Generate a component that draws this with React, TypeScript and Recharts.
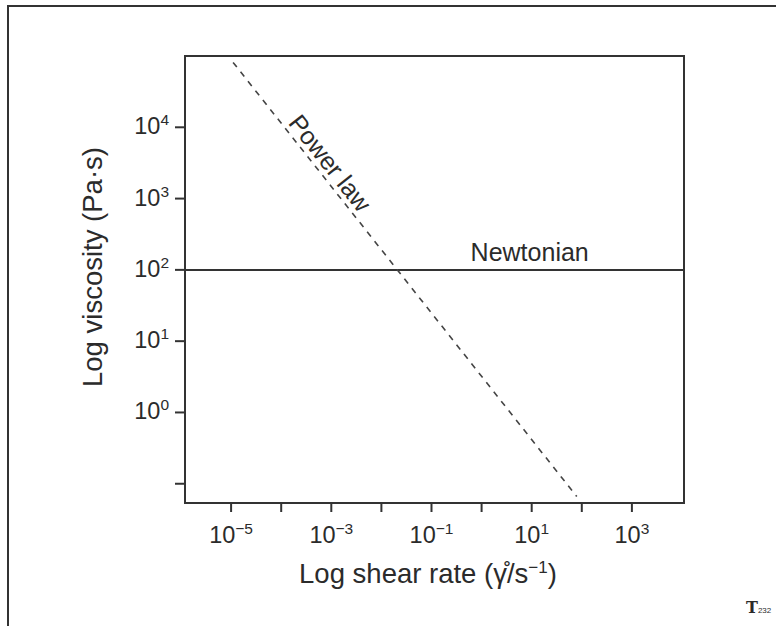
import { LineChart, Line, XAxis, YAxis, ReferenceArea, ReferenceDot } from "recharts"

// exponents (log10)
const xDomain = [-5.92, 4.04]
const yDomain = [-1.27, 5]
const xTicks = [-5, -4, -3, -2, -1, 0, 1, 2, 3]
const yTicks = [-1, 0, 1, 2, 3, 4]

const powerLawX = [-4.96, 1.9]
const powerLawY = [4.91, -1.18]
const newtonianX = [-5.92, 4.04]
const newtonianY = [2, 2]

const powerLawLabelAt = { x: -3.02, y: 3.5 }
const newtonianLabelAt = { x: 0.96, y: 2 }

const toPoints = (xs: number[], ys: number[]) => xs.map((x, i) => ({ x, y: ys[i] }))
const powerLaw = toPoints(powerLawX, powerLawY)
const newtonian = toPoints(newtonianX, newtonianY)

const FONT = '"Liberation Sans", Arial, sans-serif'
const INK = "#2b2b2b"

const sup = (v: number) => (v < 0 ? `\u2212${-v}` : `${v}`)

function XTick({ x, y, payload }: any) {
  const v = payload.value
  if (Math.abs(v) % 2 === 0) return <g />
  return (
    <text x={x} y={y + 29} textAnchor="middle" fill={INK} fontSize={23.5} fontFamily={FONT}>
      10
      <tspan dy={-9} fontSize={15.5}>{sup(v)}</tspan>
    </text>
  )
}

function YTick({ x, y, payload }: any) {
  const v = payload.value
  if (v < 0) return <g />
  return (
    <text x={x - 4} y={y + 7} textAnchor="end" fill={INK} fontSize={23.5} fontFamily={FONT}>
      10
      <tspan dy={-9} fontSize={15.5}>{sup(v)}</tspan>
    </text>
  )
}

export default function App() {
  return (
    <div
      style={{
        position: "absolute",
        left: 0,
        top: 0,
        width: 776,
        height: 626,
        overflow: "hidden",
        background: "#fff",
        fontFamily: FONT,
        color: INK,
      }}
    >
      <div
        style={{
          position: "absolute",
          left: 7,
          top: 5,
          width: 820,
          height: 680,
          border: "2px solid #333",
        }}
      />
      <LineChart
        width={776}
        height={626}
        margin={{ top: 56, right: 92, bottom: 83, left: 125 }}
        style={{ position: "absolute", left: 0, top: 0 }}
      >
        <XAxis
          dataKey="x"
          type="number"
          domain={xDomain}
          ticks={xTicks}
          allowDataOverflow
          height={40}
          axisLine={false}
          tickSize={9}
          tickLine={{ stroke: "#333", strokeWidth: 2 }}
          tick={<XTick />}
          interval={0}
        />
        <YAxis
          dataKey="y"
          type="number"
          domain={yDomain}
          ticks={yTicks}
          allowDataOverflow
          width={60}
          axisLine={false}
          tickSize={10}
          tickLine={{ stroke: "#333", strokeWidth: 2 }}
          tick={<YTick />}
          interval={0}
        />
        <ReferenceArea
          x1={xDomain[0]}
          x2={xDomain[1]}
          y1={yDomain[0]}
          y2={yDomain[1]}
          fill="none"
          stroke="#333"
          strokeWidth={2}
          ifOverflow="visible"
        />
        <Line
          data={newtonian}
          dataKey="y"
          type="linear"
          stroke="#333"
          strokeWidth={2}
          dot={false}
          isAnimationActive={false}
        />
        <Line
          data={powerLaw}
          dataKey="y"
          type="linear"
          stroke="#444"
          strokeWidth={1.6}
          strokeDasharray="6 6"
          dot={false}
          isAnimationActive={false}
        />
        <ReferenceDot
          x={powerLawLabelAt.x}
          y={powerLawLabelAt.y}
          r={0}
          ifOverflow="visible"
          shape={(p: any) => (
            <text
              x={p.cx}
              y={p.cy}
              textAnchor="middle"
              dominantBaseline="central"
              transform={`rotate(51.7 ${p.cx} ${p.cy})`}
              fill={INK}
              fontSize={25}
              fontFamily={FONT}
            >
              Power law
            </text>
          )}
        />
        <ReferenceDot
          x={newtonianLabelAt.x}
          y={newtonianLabelAt.y}
          r={0}
          ifOverflow="visible"
          shape={(p: any) => (
            <text x={p.cx} y={p.cy - 9} textAnchor="middle" fill={INK} fontSize={25} fontFamily={FONT}>
              Newtonian
            </text>
          )}
        />
      </LineChart>
      <div
        style={{
          position: "absolute",
          left: 93,
          top: 267,
          transform: "translate(-50%, -50%) rotate(-90deg)",
          whiteSpace: "nowrap",
          fontSize: 27.5,
          lineHeight: "28px",
        }}
      >
        Log viscosity (Pa·s)
      </div>
      <div
        style={{
          position: "absolute",
          left: 428,
          top: 560,
          transform: "translateX(-50%)",
          whiteSpace: "nowrap",
          fontSize: 27.5,
          lineHeight: "28px",
        }}
      >
        Log shear rate (γ̊/s
        <span style={{ fontSize: 17, position: "relative", top: -10 }}>{"\u22121"}</span>)
      </div>
      <div
        style={{
          position: "absolute",
          left: 746,
          top: 600,
          whiteSpace: "nowrap",
          fontFamily: '"DejaVu Serif", serif',
          fontWeight: "bold",
          fontSize: 16,
          lineHeight: "16px",
        }}
      >
        T<span style={{ fontSize: 8, fontFamily: FONT, fontWeight: "normal" }}>232</span>
      </div>
    </div>
  )
}
